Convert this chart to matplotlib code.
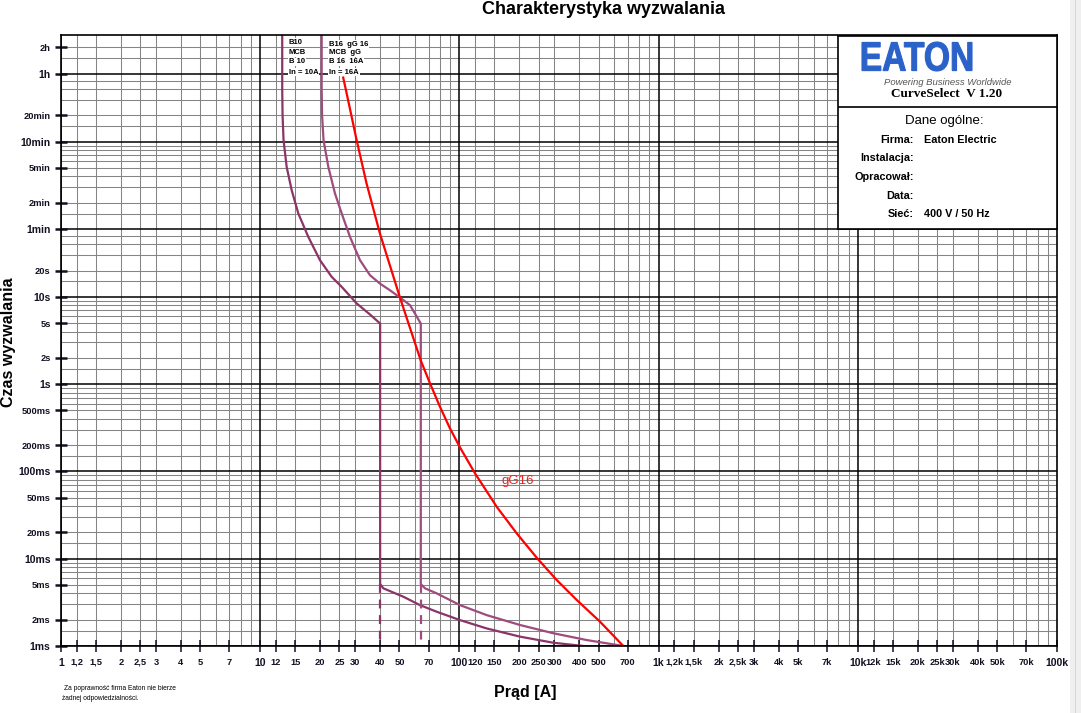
import matplotlib
matplotlib.use('Agg')
import matplotlib.pyplot as plt
from matplotlib.textpath import TextPath
from matplotlib.patches import PathPatch, Rectangle
from matplotlib.font_manager import FontProperties
from matplotlib.transforms import Affine2D

plt.rcParams['font.family'] = ['Liberation Sans', 'DejaVu Sans']

W, H = 1081, 713

# B10 MCB, In = 10A  (prad [A], czas [s])
b10_i = [12.9, 12.9, 12.95, 13.1, 13.58, 14.39, 15.54, 17.44, 19.96, 22.86, 25.66, 30.51, 35.58, 40.0,
         40.0, 41.5, 52.3, 63.4, 76.9, 100.7, 137, 201.5, 296, 419]
b10_t = [1e4, 2324, 1200, 622, 308, 166.5, 90.1, 48.6, 26.3, 16.93, 13.01, 8.40, 6.28, 4.95,
         5.13e-3, 4.58e-3, 3.67e-3, 2.94e-3, 2.47e-3, 1.98e-3, 1.59e-3, 1.28e-3, 1.09e-3, 1.0e-3]

# B16 MCB, In = 16A
b16_i = [20.35, 20.35, 20.45, 20.8, 21.98, 23.74, 25.66, 28.24, 31.7, 35.58, 39.9, 44.8, 50.3, 56.5, 64.0,
         64.0, 67.2, 76.9, 100.7, 137, 201.5, 296, 435.5, 665]
b16_t = [1e4, 2324, 1200, 622, 308, 152.7, 90.1, 48.6, 26.3, 17.7, 14.2, 11.9, 9.83, 8.03, 4.95,
         5.13e-3, 4.58e-3, 4.01e-3, 2.94e-3, 2.26e-3, 1.74e-3, 1.40e-3, 1.17e-3, 1.0e-3]

# wkladka gG 16A
gg_i = [26.1, 26.96, 30.5, 34.2, 39.9, 50.3, 63.9, 71.2, 79.9, 89.7, 100.7, 119.8, 153.9,
        194, 246, 308, 388, 508, 665]
gg_t = [3251, 2324, 622, 198.8, 53.2, 9.83, 1.88, 1.02, 0.550, 0.311, 0.1884, 0.0950, 0.03936,
        0.01952, 0.01009, 0.0057, 0.00337, 0.0019, 0.001]

# dashed tails below the instantaneous trip
b10_tail_i = [40.0, 40.0]
b16_tail_i = [64.0, 64.0]
tail_t = [5.13e-3, 1e-3]

x_ticks = [1, 1.2, 1.5, 2, 2.5, 3, 4, 5, 7, 10, 12, 15, 20, 25, 30, 40, 50, 70,
           100, 120, 150, 200, 250, 300, 400, 500, 700, 1000, 1200, 1500, 2000, 2500, 3000,
           4000, 5000, 7000, 1e4, 1.2e4, 1.5e4, 2e4, 2.5e4, 3e4, 4e4, 5e4, 7e4, 1e5]
x_labels = ['1', '1,2', '1,5', '2', '2,5', '3', '4', '5', '7', '10', '12', '15', '20', '25', '30',
            '40', '50', '70', '100', '120', '150', '200', '250', '300', '400', '500', '700',
            '1k', '1,2k', '1,5k', '2k', '2,5k', '3k', '4k', '5k', '7k', '10k', '12k', '15k',
            '20k', '25k', '30k', '40k', '50k', '70k', '100k']
x_major = [1, 10, 100, 1000, 1e4, 1e5]

y_ticks = [1e-3, 2e-3, 5e-3, 1e-2, 2e-2, 5e-2, 0.1, 0.2, 0.5, 1, 2, 5, 10, 20,
           60, 120, 300, 600, 1200, 3600, 7200]
y_labels = ['1ms', '2ms', '5ms', '10ms', '20ms', '50ms', '100ms', '200ms', '500ms', '1s', '2s',
            '5s', '10s', '20s', '1min', '2min', '5min', '10min', '20min', '1h', '2h']
y_major = [1e-3, 1e-2, 0.1, 1, 10, 60, 600, 3600]

steps = [1, 1.5, 2, 3, 4, 5, 6, 7, 8, 9]
sub_steps = [1, 1.5, 2, 3, 4, 5]
x_steps = [1, 1.2, 1.5, 2, 2.5, 3, 4, 5, 6, 7, 8, 9]

fig = plt.figure(figsize=(W / 100, H / 100), dpi=100)
ax = fig.add_axes([61 / W, 1 - 646 / H, 996 / W, 611 / H])
ax.set_xscale('log')
ax.set_yscale('log')
ax.set_xlim(1, 1e5)
ax.set_ylim(1e-3, 1e4)

# grid
x_grid = [d * m for d in (1, 10, 100, 1000, 1e4) for m in x_steps]
for v in x_grid:
    if v in x_major:
        ax.axvline(v, color='black', lw=1.1, zorder=1)
    else:
        ax.axvline(v, color='#858585', lw=0.75, zorder=0)

y_grid = ([d * m for d in (1e-3, 1e-2, 0.1, 1) for m in steps]
          + [10 * m for m in sub_steps] + [60 * m for m in steps]
          + [600 * m for m in sub_steps] + [3600 * m for m in (1, 1.5, 2)])
for v in y_grid:
    if v in y_major:
        ax.axhline(v, color='black', lw=1.1, zorder=1)
    else:
        ax.axhline(v, color='#858585', lw=0.75, zorder=0)

# curves
ax.plot(b10_i, b10_t, color='#8b3468', lw=1.6, zorder=4)
ax.plot(b16_i, b16_t, color='#9e4c7e', lw=1.6, zorder=4)
ax.plot(b10_tail_i, tail_t, color='#8b3468', lw=1.6, ls=(0, (4, 3)), zorder=4)
ax.plot(b16_tail_i, tail_t, color='#9e4c7e', lw=1.6, ls=(0, (4, 3)), zorder=4)
ax.plot(gg_i, gg_t, color='#ff0000', lw=1.6, zorder=5)

ax.text(163.6, 0.0775, 'gG16', color='#ee2020', fontsize=9.5, ha='left', va='center', zorder=6)

lab_kw = dict(fontsize=5.5, fontweight='bold', ha='left', va='center', zorder=6,
              bbox=dict(facecolor='white', edgecolor='none', pad=0.6))
for txt, t in zip(['B10', 'MCB', 'B 10', 'In = 10A'], [8184, 6285, 4909, 3767]):
    ax.text(13.9, t, txt, **lab_kw)
for txt, t in zip(['B16  gG 16', 'MCB  gG', 'B 16  16A', 'In = 16A'], [7762, 6285, 4909, 3767]):
    ax.text(22.2, t, txt, **lab_kw)

# axes styling
for s in ax.spines.values():
    s.set_color('black')
    s.set_linewidth(1.2)
    s.set_zorder(7)
ax.minorticks_off()
ax.set_xticks(x_ticks)
ax.set_xticklabels(x_labels)
ax.set_yticks(y_ticks)
ax.set_yticklabels(y_labels)
ax.tick_params(axis='x', direction='inout', length=9, width=1.1, pad=4, colors='#111122')
ax.tick_params(axis='y', direction='inout', length=9, width=1.8, pad=3, colors='#111122')
for lbl, v in zip(ax.get_xticklabels(), x_ticks):
    lbl.set_fontweight('bold')
    lbl.set_fontsize(7.5 if v in x_major else 6.7)
for lbl, v in zip(ax.get_yticklabels(), y_ticks):
    lbl.set_fontweight('bold')
    lbl.set_fontsize(7.5 if v in y_major else 6.7)

fig.text(603 / W, 1 - 10 / H, 'Charakterystyka wyzwalania', fontsize=13, fontweight='bold',
         ha='center', va='center')
fig.text(9 / W, 1 - 342 / H, 'Czas wyzwalania', fontsize=11.5, fontweight='bold',
         rotation=90, ha='center', va='center')
fig.text(525 / W, 1 - 692 / H, 'Prąd [A]', fontsize=11.5, fontweight='bold',
         ha='center', va='center')
fig.text(64 / W, 1 - 689 / H, 'Za poprawność firma Eaton nie bierze', fontsize=4.8, va='center')
fig.text(62 / W, 1 - 698 / H, 'żadnej odpowiedzialności.', fontsize=4.8, va='center')

# info box
bax = fig.add_axes([838 / W, 1 - 229 / H, 219 / W, 193 / H])
bax.set_xlim(0, 219)
bax.set_ylim(193, 0)
bax.set_xticks([])
bax.set_yticks([])
bax.set_zorder(10)
for s in bax.spines.values():
    s.set_linewidth(1.2)
bax.axhline(71, color='black', lw=1.2)

fp = FontProperties(family='Liberation Sans', weight='bold')
tp = TextPath((0, 0), 'EATON', size=1, prop=fp)
bb = tp.get_extents()
tr = (Affine2D().translate(-bb.x0, -bb.y0)
      .scale((134 - 24) / bb.width, -(35 - 6) / bb.height).translate(24, 35))
bax.add_patch(PathPatch(tr.transform_path(tp), facecolor='#2a62c9', edgecolor='#2a62c9', lw=0.8))
bax.text(110, 46.5, 'Powering Business Worldwide', fontsize=6.8, style='italic', color='#555555',
         ha='center', va='center')
bax.text(108.5, 58, 'CurveSelect  V 1.20', fontsize=9.5, fontweight='bold',
         family='Liberation Serif', ha='center', va='center')
bax.text(106, 85, 'Dane ogólne:', fontsize=9.5, ha='center', va='center')
for txt, y in zip(['Firma:', 'Instalacja:', 'Opracował:', 'Data:', 'Sieć:'], [104, 122, 141, 160, 178]):
    bax.text(76, y, txt, fontsize=7.8, fontweight='bold', ha='right', va='center')
bax.text(86, 104, 'Eaton Electric', fontsize=7.8, fontweight='bold', ha='left', va='center')
bax.text(86, 178, '400 V / 50 Hz', fontsize=7.8, fontweight='bold', ha='left', va='center')

# window edge on the right
fig.patches.append(Rectangle((1070 / W, 0), 11 / W, 1, transform=fig.transFigure,
                             facecolor='#efefef', edgecolor='none'))
fig.patches.append(Rectangle((1075 / W, 0), 1 / W, 1, transform=fig.transFigure,
                             facecolor='#d6d6d6', edgecolor='none'))

fig.savefig('out.png', dpi=100)
